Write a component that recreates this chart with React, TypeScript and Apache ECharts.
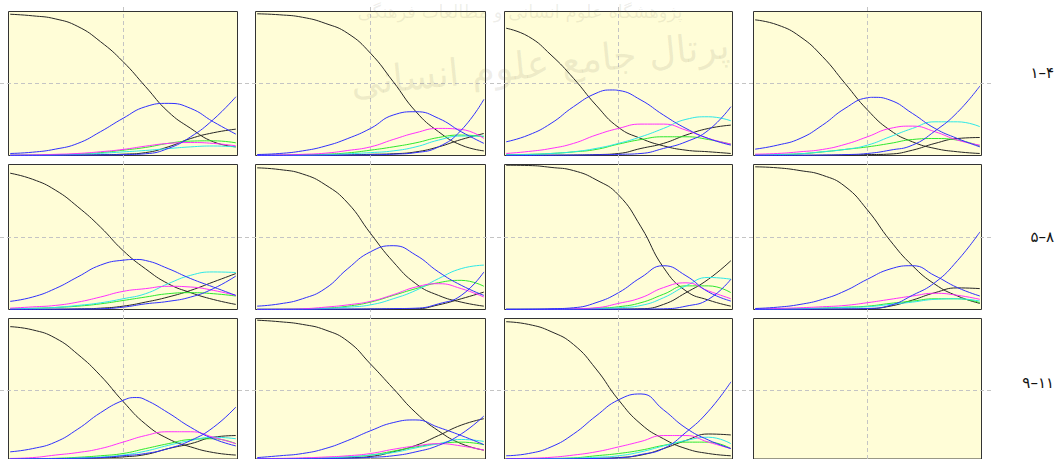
import { useEffect, useRef } from 'react';
import * as echarts from 'echarts';

// x positions shared by every panel
const xs = [0, 1, 2, 3, 4, 5, 6, 7, 8, 9, 10];

// labels drawn to the right of each row of panels
const rowLabels = ['۱–۴', '۵–۸', '۹–۱۱'];

// one row per panel (11 panels, the 12th stays empty)
const fallBlack = [
  [0.981, 0.97, 0.949, 0.896, 0.791, 0.652, 0.478, 0.304, 0.188, 0.095, 0.06],
  [0.984, 0.977, 0.96, 0.918, 0.848, 0.71, 0.513, 0.305, 0.165, 0.072, 0.032],
  [0.884, 0.826, 0.698, 0.536, 0.35, 0.195, 0.118, 0.067, 0.037, 0.026, 0.014],
  [0.942, 0.907, 0.826, 0.687, 0.501, 0.316, 0.176, 0.095, 0.049, 0.026, 0.014],
  [0.94, 0.898, 0.824, 0.708, 0.569, 0.407, 0.28, 0.178, 0.116, 0.069, 0.035],
  [0.977, 0.965, 0.935, 0.861, 0.734, 0.525, 0.329, 0.178, 0.097, 0.051, 0.023],
  [0.995, 0.993, 0.98, 0.958, 0.895, 0.79, 0.57, 0.29, 0.128, 0.065, 0.023],
  [0.984, 0.977, 0.958, 0.926, 0.849, 0.686, 0.477, 0.302, 0.174, 0.093, 0.042],
  [0.942, 0.919, 0.861, 0.745, 0.594, 0.41, 0.248, 0.144, 0.086, 0.046, 0.028],
  [0.988, 0.977, 0.958, 0.919, 0.838, 0.676, 0.502, 0.329, 0.2, 0.109, 0.063],
  [0.977, 0.958, 0.907, 0.815, 0.641, 0.421, 0.248, 0.144, 0.074, 0.039, 0.023],
];

const peakBlue = [
  [0.014, 0.023, 0.044, 0.084, 0.165, 0.258, 0.339, 0.362, 0.327, 0.234, 0.148],
  [0.007, 0.014, 0.032, 0.065, 0.118, 0.188, 0.281, 0.304, 0.258, 0.165, 0.084],
  [0.095, 0.142, 0.223, 0.339, 0.432, 0.452, 0.385, 0.281, 0.188, 0.118, 0.072],
  [0.044, 0.072, 0.118, 0.211, 0.327, 0.401, 0.385, 0.292, 0.188, 0.118, 0.06],
  [0.056, 0.086, 0.144, 0.225, 0.306, 0.34, 0.338, 0.282, 0.213, 0.155, 0.097],
  [0.023, 0.039, 0.074, 0.144, 0.282, 0.398, 0.44, 0.375, 0.259, 0.167, 0.097],
  [0.001, 0.002, 0.005, 0.012, 0.047, 0.116, 0.221, 0.302, 0.233, 0.121, 0.058],
  [0.007, 0.016, 0.035, 0.07, 0.128, 0.209, 0.279, 0.302, 0.233, 0.151, 0.093],
  [0.051, 0.074, 0.12, 0.213, 0.329, 0.417, 0.421, 0.329, 0.225, 0.144, 0.093],
  [0.01, 0.023, 0.039, 0.074, 0.132, 0.201, 0.259, 0.278, 0.225, 0.167, 0.102],
  [0.023, 0.039, 0.086, 0.178, 0.306, 0.421, 0.463, 0.35, 0.22, 0.135, 0.074],
];

// crest [x, y] of the blue bell where it falls between two sample positions
const peakBlueCrest = [
  null,
  null,
  [4.73, 0.455],
  [5.26, 0.404],
  [5.59, 0.345],
  null,
  null,
  null,
  [5.59, 0.4375],
  null,
  null,
];

const riseBlue = [
  [0.001, 0.001, 0.002, 0.003, 0.004, 0.006, 0.012, 0.049, 0.13, 0.25, 0.408],
  [0.001, 0.001, 0.002, 0.002, 0.003, 0.005, 0.009, 0.02, 0.06, 0.176, 0.39],
  [0.001, 0.001, 0.002, 0.003, 0.005, 0.008, 0.014, 0.049, 0.095, 0.176, 0.339],
  [0.001, 0.001, 0.002, 0.003, 0.006, 0.014, 0.037, 0.072, 0.17, 0.3, 0.483],
  [0.001, 0.001, 0.002, 0.003, 0.005, 0.016, 0.039, 0.056, 0.086, 0.144, 0.231],
  [0.001, 0.001, 0.001, 0.002, 0.003, 0.004, 0.006, 0.009, 0.039, 0.097, 0.259],
  [0.001, 0.001, 0.001, 0.001, 0.002, 0.002, 0.003, 0.005, 0.023, 0.07, 0.209],
  [0.001, 0.001, 0.002, 0.003, 0.004, 0.007, 0.028, 0.098, 0.186, 0.337, 0.535],
  [0.001, 0.002, 0.003, 0.005, 0.01, 0.023, 0.039, 0.074, 0.132, 0.225, 0.37],
  [0.001, 0.001, 0.002, 0.003, 0.006, 0.012, 0.023, 0.051, 0.097, 0.178, 0.306],
  [0.001, 0.001, 0.001, 0.002, 0.004, 0.008, 0.032, 0.074, 0.19, 0.34, 0.549],
];

const riseBlack = [
  [0.001, 0.001, 0.002, 0.003, 0.005, 0.009, 0.02, 0.06, 0.118, 0.158, 0.183],
  [0.001, 0.001, 0.001, 0.002, 0.004, 0.008, 0.012, 0.025, 0.06, 0.111, 0.153],
  [0.001, 0.001, 0.002, 0.003, 0.006, 0.014, 0.049, 0.084, 0.142, 0.188, 0.211],
  [0.001, 0.001, 0.001, 0.002, 0.004, 0.006, 0.01, 0.037, 0.084, 0.118, 0.125],
  [0.001, 0.001, 0.002, 0.004, 0.009, 0.023, 0.051, 0.086, 0.132, 0.19, 0.248],
  [0.001, 0.001, 0.001, 0.001, 0.002, 0.003, 0.004, 0.005, 0.032, 0.074, 0.12],
  [0.001, 0.001, 0.001, 0.001, 0.002, 0.003, 0.005, 0.035, 0.116, 0.209, 0.337],
  [0.001, 0.001, 0.001, 0.002, 0.003, 0.005, 0.023, 0.065, 0.116, 0.149, 0.144],
  [0.001, 0.001, 0.002, 0.004, 0.008, 0.015, 0.032, 0.074, 0.109, 0.155, 0.167],
  [0.001, 0.001, 0.002, 0.004, 0.008, 0.018, 0.051, 0.097, 0.167, 0.241, 0.287],
  [0.001, 0.001, 0.001, 0.002, 0.004, 0.01, 0.028, 0.074, 0.132, 0.178, 0.171],
];

const magentaCurve = [
  [0.002, 0.004, 0.008, 0.014, 0.026, 0.042, 0.065, 0.084, 0.09, 0.084, 0.067],
  [0.002, 0.004, 0.008, 0.016, 0.035, 0.06, 0.111, 0.158, 0.188, 0.181, 0.118],
  [0.014, 0.028, 0.049, 0.084, 0.142, 0.188, 0.218, 0.218, 0.176, 0.118, 0.079],
  [0.009, 0.014, 0.026, 0.042, 0.077, 0.13, 0.188, 0.204, 0.165, 0.107, 0.072],
  [0.009, 0.018, 0.028, 0.051, 0.086, 0.125, 0.144, 0.16, 0.155, 0.132, 0.097],
  [0.001, 0.002, 0.005, 0.016, 0.032, 0.056, 0.102, 0.155, 0.178, 0.144, 0.086],
  [0.001, 0.001, 0.002, 0.005, 0.012, 0.042, 0.081, 0.151, 0.184, 0.128, 0.074],
  [0.003, 0.007, 0.012, 0.019, 0.028, 0.047, 0.07, 0.093, 0.112, 0.098, 0.07],
  [0.004, 0.01, 0.028, 0.046, 0.074, 0.12, 0.167, 0.194, 0.194, 0.155, 0.109],
  [0.002, 0.004, 0.008, 0.014, 0.023, 0.039, 0.069, 0.093, 0.109, 0.093, 0.063],
  [0.002, 0.005, 0.012, 0.028, 0.051, 0.086, 0.125, 0.167, 0.167, 0.12, 0.074],
];

const greenCurve = [
  [0.001, 0.002, 0.005, 0.01, 0.02, 0.037, 0.056, 0.084, 0.1, 0.102, 0.088],
  [0.001, 0.002, 0.004, 0.009, 0.018, 0.037, 0.06, 0.088, 0.125, 0.142, 0.13],
  [0.005, 0.008, 0.014, 0.025, 0.042, 0.079, 0.111, 0.13, 0.13, 0.111, 0.079],
  [0.005, 0.007, 0.012, 0.025, 0.042, 0.06, 0.084, 0.111, 0.118, 0.107, 0.065],
  [0.005, 0.008, 0.014, 0.023, 0.039, 0.062, 0.086, 0.109, 0.116, 0.109, 0.093],
  [0.001, 0.002, 0.004, 0.009, 0.023, 0.051, 0.097, 0.144, 0.185, 0.201, 0.16],
  [0.001, 0.001, 0.002, 0.004, 0.009, 0.019, 0.047, 0.105, 0.163, 0.163, 0.116],
  [0.001, 0.003, 0.006, 0.01, 0.016, 0.023, 0.042, 0.058, 0.074, 0.074, 0.047],
  [0.001, 0.002, 0.005, 0.012, 0.023, 0.039, 0.074, 0.109, 0.139, 0.144, 0.109],
  [0.001, 0.002, 0.004, 0.008, 0.015, 0.028, 0.056, 0.086, 0.109, 0.12, 0.102],
  [0.001, 0.002, 0.004, 0.008, 0.023, 0.039, 0.063, 0.097, 0.12, 0.12, 0.074],
];

const cyanCurve = [
  [0.001, 0.002, 0.004, 0.008, 0.015, 0.025, 0.035, 0.048, 0.06, 0.066, 0.06],
  [0.001, 0.001, 0.002, 0.005, 0.012, 0.02, 0.032, 0.06, 0.107, 0.135, 0.135],
  [0.005, 0.007, 0.014, 0.026, 0.049, 0.084, 0.13, 0.188, 0.251, 0.269, 0.241],
  [0.005, 0.007, 0.012, 0.026, 0.042, 0.072, 0.13, 0.188, 0.234, 0.234, 0.2],
  [0.005, 0.008, 0.014, 0.028, 0.046, 0.074, 0.109, 0.178, 0.236, 0.259, 0.255],
  [0.001, 0.001, 0.003, 0.007, 0.016, 0.032, 0.074, 0.132, 0.213, 0.282, 0.306],
  [0.001, 0.001, 0.001, 0.003, 0.006, 0.012, 0.028, 0.081, 0.163, 0.221, 0.209],
  [0.001, 0.003, 0.005, 0.009, 0.014, 0.019, 0.035, 0.051, 0.07, 0.074, 0.058],
  [0.001, 0.001, 0.003, 0.007, 0.014, 0.028, 0.056, 0.097, 0.132, 0.155, 0.144],
  [0.001, 0.002, 0.004, 0.008, 0.015, 0.028, 0.046, 0.079, 0.109, 0.139, 0.125],
  [0.001, 0.001, 0.003, 0.006, 0.012, 0.023, 0.051, 0.093, 0.132, 0.155, 0.109],
];

// panel layout (pixels) and look
const colLefts = [8.5, 255.5, 504.5, 753.5];
const colWidths = [229, 230, 228, 228];
const rowTops = [11.5, 164.5, 318.5];
const rowHeights = [144, 145, 144];
const PANEL_BG = '#FFFDD7';
const PANEL_BORDER = '#333333';
const GUIDE = '#c4c4c4';

const curves = [
  { data: fallBlack, color: '#262626', crest: null as any },
  { data: riseBlack, color: '#262626', crest: null as any },
  { data: greenCurve, color: '#2ee82e', crest: null as any },
  { data: cyanCurve, color: '#2ee8e8', crest: null as any },
  { data: magentaCurve, color: '#ff30ff', crest: null as any },
  { data: peakBlue, color: '#3030ff', crest: peakBlueCrest },
  { data: riseBlue, color: '#3030ff', crest: null as any },
];

export default function App() {
  const ref = useRef<HTMLDivElement>(null);

  useEffect(() => {
    if (!ref.current) return;
    const chart = echarts.init(ref.current, null, { renderer: 'svg' });

    const grid: any[] = [];
    const xAxis: any[] = [];
    const yAxis: any[] = [];
    const series: any[] = [];
    const graphic: any[] = [];

    for (let p = 0; p < 12; p++) {
      const r = Math.floor(p / 4);
      const c = p % 4;
      grid.push({
        show: true,
        left: colLefts[c],
        top: rowTops[r],
        width: colWidths[c],
        height: rowHeights[r],
        backgroundColor: PANEL_BG,
        borderColor: PANEL_BORDER,
        borderWidth: 1,
        z: 0,
      });
      xAxis.push({ type: 'value', gridIndex: p, min: -0.07, max: 10.07, show: false });
      yAxis.push({ type: 'value', gridIndex: p, min: 0, max: 1, show: false });
      if (p < fallBlack.length) {
        curves.forEach((cv) => {
          const pts: number[][] = xs.map((x, i) => [x, cv.data[p][i]]);
          if (cv.crest && cv.crest[p]) {
            pts.push(cv.crest[p]);
            pts.sort((a, b) => a[0] - b[0]);
          }
          series.push({
            type: 'line',
            xAxisIndex: p,
            yAxisIndex: p,
            data: pts,
            smooth: 0.5,
            showSymbol: false,
            lineStyle: { color: cv.color, width: 1 },
            z: 3,
            silent: true,
          });
        });
      }
    }

    // dashed guides through the middle of every row and column
    rowTops.forEach((t, r) => {
      const y = Math.floor(t + rowHeights[r] / 2) + 0.5;
      graphic.push({
        type: 'line',
        z: 1,
        silent: true,
        shape: { x1: 0, y1: y, x2: 993, y2: y },
        style: { stroke: GUIDE, lineWidth: 1, lineDash: [4, 3] },
      });
    });
    colLefts.forEach((l, c) => {
      const x = Math.floor(l + colWidths[c] / 2) + 0.5;
      graphic.push({
        type: 'line',
        z: 1,
        silent: true,
        shape: { x1: x, y1: 7, x2: x, y2: 459 },
        style: { stroke: GUIDE, lineWidth: 1, lineDash: [4, 3] },
      });
    });

    // row labels
    const labelYs = [73, 237, 383];
    rowLabels.forEach((txt, r) => {
      graphic.push({
        type: 'text',
        z: 5,
        silent: true,
        style: {
          text: txt,
          x: 1054,
          y: labelYs[r],
          align: 'right',
          verticalAlign: 'middle',
          fontSize: 15,
          fontFamily: 'DejaVu Sans',
          fill: '#111111',
        },
      });
    });

    // faint site watermark across the top
    graphic.push({
      type: 'text',
      z: 4,
      silent: true,
      x: 540,
      y: 64,
      rotation: 0.1,
      style: {
        text: 'پرتال جامع علوم انسانی',
        x: 0,
        y: 0,
        align: 'center',
        verticalAlign: 'middle',
        fontSize: 38,
        fontFamily: 'DejaVu Sans',
        fill: 'rgba(120,115,90,0.13)',
      },
    });
    graphic.push({
      type: 'text',
      z: 4,
      silent: true,
      x: 520,
      y: 11,
      style: {
        text: 'پژوهشگاه علوم انسانی و مطالعات فرهنگی',
        x: 0,
        y: 0,
        align: 'center',
        verticalAlign: 'middle',
        fontSize: 18,
        fontFamily: 'DejaVu Sans',
        fill: 'rgba(120,115,90,0.12)',
      },
    });

    chart.setOption({
      animation: false,
      backgroundColor: '#ffffff',
      grid,
      xAxis,
      yAxis,
      series,
      graphic,
    });

    return () => chart.dispose();
  }, []);

  return (
    <div
      ref={ref}
      style={{ position: 'fixed', left: 0, top: 0, width: 1061, height: 459 }}
    />
  );
}
